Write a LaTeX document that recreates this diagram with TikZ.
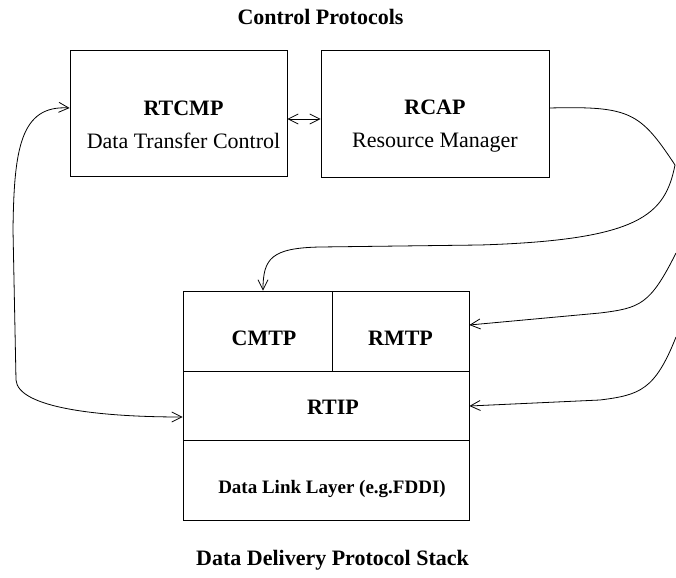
\documentclass[tikz,border=0pt]{standalone}
\usepackage{fontspec}
\setmainfont{Liberation Serif}
\usetikzlibrary{arrows.meta}

\tikzset{
  box/.style={draw,rectangle,inner sep=0pt},
  txt/.style={anchor=base,inner sep=0pt,font=\fontsize{22bp}{26bp}\selectfont},
  tip/.style={-{Straight Barb[length=10bp,width=10bp]}},
  tips/.style={{Straight Barb[length=10bp,width=10bp]}-{Straight Barb[length=10bp,width=10bp]}}
}

\begin{document}
\begin{tikzpicture}[x=1bp,y=-1bp,line width=.8bp]
\useasboundingbox (0,0) rectangle (676,578);
% control protocols
\node[box,minimum width=217bp,minimum height=126bp] (rtcmp) at (178.5,113) {};
\node[box,minimum width=228bp,minimum height=127bp] (rcap) at (435,113.5) {};
\node[txt] (rtcmpname) at (183.5,116) {\bfseries RTCMP};
\node[txt] (rtcmpdesc) at (183.5,149) {Data Transfer Control};
\node[txt] (rcapname) at (435,115) {\bfseries RCAP};
\node[txt] (rcapdesc) at (435,148) {Resource Manager};
\node[txt] (toptitle) at (320.5,25) {\bfseries Control Protocols};
% protocol stack
\node[box,minimum width=149bp,minimum height=80bp] (cmtp) at (257.5,331) {};
\node[box,minimum width=137bp,minimum height=80bp] (rmtp) at (400.5,331) {};
\node[box,minimum width=286bp,minimum height=69bp] (rtip) at (326,405.5) {};
\node[box,minimum width=286bp,minimum height=80bp] (dll) at (326,480) {};
\node[txt] (cmtpname) at (264,345) {\bfseries CMTP};
\node[txt] (rmtpname) at (400.5,345) {\bfseries RMTP};
\node[txt] (rtipname) at (333,414) {\bfseries RTIP};
\node[txt,font=\fontsize{19bp}{23bp}\selectfont] (dllname) at (332,493) {\bfseries Data Link Layer (e.g.FDDI)};
\node[txt] (bottitle) at (332.5,565) {\bfseries Data Delivery Protocol Stack};
% connectors
\coordinate (rfree1) at (676,253);
\coordinate (rfree2) at (676,337);
\draw[tips] (rtcmp.east |- 0,119) -- (rcap.west |- 0,119);
\draw[tips] (rtcmp.west |- 0,108) .. controls (20,105) and (14,150) .. (13,230)
  -- (16,380) .. controls (18,408) and (100,417) .. (rtip.west |- 0,417);
\draw[tip] (rcap.east |- 0,108) .. controls (630,106) and (640,112) .. (675,165)
  .. controls (665,215) and (640,240) .. (480,245) -- (320,247)
  .. controls (272,248) and (263,258) .. (263,0 |- cmtp.north);
\draw[tip] (rfree1) .. controls (650,305) and (640,308) .. (600,313) -- (rmtp.east |- 0,325);
\draw[tip] (rfree2) .. controls (655,390) and (640,395) .. (600,400) -- (rtip.east |- 0,406);
\end{tikzpicture}
\end{document}
